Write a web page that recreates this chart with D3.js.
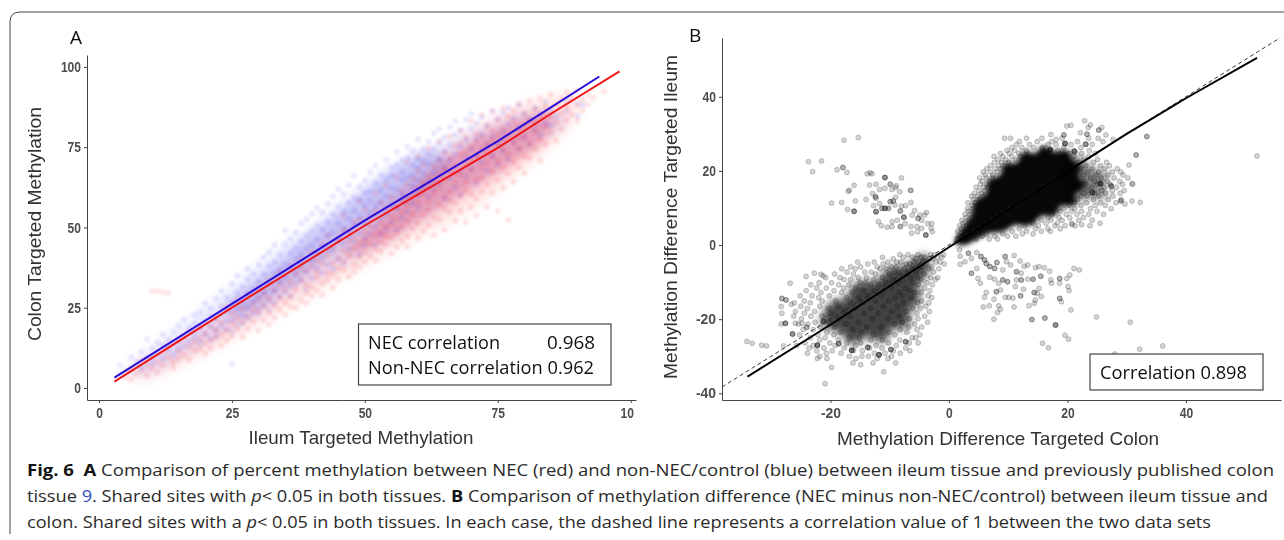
<!DOCTYPE html>
<html><head><meta charset="utf-8">
<style>html,body{margin:0;padding:0;background:#fff}svg{display:block}</style>
<script src="https://cdn.jsdelivr.net/npm/d3@7/dist/d3.min.js"></script></head>
<body><svg id="c" width="1284" height="540"></svg>
<script>
// ---------- Panel A values ----------
const aXTickValues=[0,25,50,75,100];
const aXTickLabels=["0","25","50","75","10"];
const aYTickValues=[0,25,50,75,100];
const aBlueLine=[[2.9,3.2],[25,26.2],[50,52.2],[75,76.9],[85,87.4],[94.1,97]];
const aRedLine=[[2.9,2],[25,25],[50,50.6],[75,74.8],[85,85.4],[97.9,98.6]];
const aCloudBlue=[[6,6],[14,17],[24,30],[33,42],[43,54],[53,66],[62,74],[72,81],[82,86],[88,84],[78,72],[66,58],[54,46],[42,35],[30,24],[18,12],[8,4]];
const aCloudRed=[[6,4],[16,15],[28,28],[40,42],[52,56],[62,70],[72,82],[82,89],[90,90],[88,81],[78,66],[68,54],[56,44],[44,33],[32,22],[20,11],[8,3]];
const aCoreRed=[[50,48],[58,60],[64,69],[72,78],[80,84],[85,85],[84,78],[78,70],[70,62],[62,54],[54,46],[46,41]];
const aCoreBlue=[[24,25],[32,37],[40,48],[48,59],[55,68],[62,74],[66,70],[60,60],[52,52],[44,43],[36,33],[26,22]];
const aBlueColumns=[[4,[4.5,7]],[6,[5.2,9.6]],[7,[8.1]],[8,[6.4,11.3]],[9,[15.2,9.5]],[10,[7.8,12.4]],[11,[10.6,14.1]],[12,[9.2,16.8,13.3]],[13,[11.7,15.2]],[14,[10.3,17.5,13.6]],[15,[14.8,19.4,12.2]],[16,[16.3,13.1,21.2]],[17,[18.6,14.4]],[18,[15.6,22.7,20.1,17.3]],[19,[14.2,23.6,18.9]],[20,[16.7,20.5,26.4]],[21,[15.1,24.8,19.2,22.3]],[22,[27.8,17.9,21.6,16.2]],[23,[25.3,19.4,30.2,22.8]],[24,[18.2,28.1,23.7,20.9]],[25,[7.5,21.3,32.4,26.6,17.6]],[26,[24.9,19.5,29.7,35.1]],[27,[22.4,31.5,26.8,20.2]],[28,[33.9,25.2,29.4,21.7,37.1]],[29,[23.1,35.6,30.8,26.9]],[30,[38.4,24.6,33.2,28.3,22.9]],[31,[29.8,40.7,25.7,35.4]],[32,[27.2,37.9,32.6,42.3,24.4]],[33,[44.6,30.1,35.7,26.5,39.2]],[34,[28.4,41.6,33.3,36.8]],[35,[49.1,29.9,38.2,44.7,34.6]],[36,[31.8,46.3,37.4,42.1,28.6]],[37,[35.2,48.4,40.3,32.7,43.6]],[38,[51.4,33.6,38.9,45.8,41.7]],[39,[30.7,47.5,36.1,43.4,52.6]],[40,[39.7,54.3,34.2,48.9,44.5]],[41,[37.3,50.6,42.6,56.1,46.2]],[42,[35.8,44.1,54.7,40.5,49.3]],[43,[57.4,38.4,47.6,51.8,43.2]],[44,[42.7,59.6,36.9,54.2,48.4]],[45,[61.8,40.2,45.9,56.6,51.3]],[46,[49.6,38.7,60.4,44.8,54.9]],[47,[43.3,63.2,52.7,57.8,47.1]],[48,[66.1,45.6,59.3,50.8,55.2]],[49,[41.6,62.7,53.4,48.2,58.6]],[50,[64.6,46.7,56.9,51.5,60.8,44.3]],[51,[48.1,67.3,54.6,61.2,58.4]],[52,[69.2,50.3,63.8,44.6,56.7]],[53,[57.9,66.4,47.8,61.6,52.7]],[54,[71.1,54.2,64.9,49.7,59.8]],[55,[62.4,68.7,51.9,57.1,66.2]],[56,[73.6,49.3,61.7,55.8,69.4]],[57,[64.8,70.9,53.1,60.2,67.3]],[58,[75.2,58.7,65.6,71.7,54.8]],[59,[69.3,62.9,73.8,57.4,66.4]],[60,[77.4,60.3,71.2,64.7,56.2,68.6]],[61,[74.3,66.8,62.4,70.6]],[62,[76.8,59.7,69.8,64.2,72.9]],[63,[79.4,67.2,61.8,74.6]],[64,[71.3,76.2,63.6,80.7]],[65,[58.9,68.4,78.1,73.7]],[66,[81.2,65.3,75.7,70.8]],[67,[62.4,78.9,72.6,83.1]],[68,[67.7,75.1,80.3,60.2]],[69,[83.6,71.9,77.2,65.8]],[70,[74.4,80.9,68.3,85.3]],[71,[63.7,77.6,72.2,82.4]],[72,[84.3,70.4,79.1]],[73,[75.8,67.6,81.7]],[74,[86.2,72.3,78.4]],[75,[69.6,83.9,76.1]],[76,[79.6,73.8,85.7]],[77,[82.2,71.2,87.1]],[78,[76.7,84.1]],[79,[88.4,74.3,81.3]],[80,[78.2,85.2]],[81,[83.7,75.8]],[82,[87.3,80.4]],[83,[78.6,85.4]],[84,[89.2,82.3]],[85,[81.7,86.4]],[86,[84.6]],[88,[86.1,89.3]],[90,[84.8,88.6]],[91,[88.1]]];
const aRedColumns=[[5,[3.2,5.4]],[6,[2.8,6.1]],[7,[4.4]],[8,[5.6,8.7]],[9,[3.9,7.4]],[10,[6.2,9.6,30.2]],[11,[8.3,4.8,30.1]],[12,[7.1,11.2,29.9]],[13,[9.4,12.8,29.5]],[14,[8.2,6.4]],[15,[11.4,14.6,9.1]],[16,[10.3,15.7]],[17,[12.9,8.8,17.4]],[18,[14.3,11.6]],[19,[18.6,12.2,15.4]],[20,[10.7,16.9,13.8]],[21,[19.3,14.9,12.4]],[22,[15.7,21.4,18.1]],[23,[13.2,20.4,16.6]],[24,[25.2,17.8,14.7]],[25,[19.9,16.1,23.3]],[26,[27.6,18.3,21.8]],[27,[15.9,24.7,20.6]],[28,[22.3,29.1,18.4]],[29,[26.2,20.7,24.1]],[30,[17.8,31.2,23.9,27.6]],[31,[25.4,21.1,29.3]],[32,[33.8,23.4,27.9,19.7]],[33,[30.6,25.8,21.9]],[34,[36.2,28.1,24.3,32.4]],[35,[22.8,30.7,26.6]],[36,[38.1,33.2,28.4,25.3]],[37,[30.9,24.9,35.7]],[38,[40.3,27.2,33.6,37.4]],[39,[29.6,36.4,26.4,32.1]],[40,[42.2,31.4,37.8,28.7]],[41,[34.3,30.2,39.6,36.1]],[42,[44.7,32.6,28.9,38.8]],[43,[35.9,47.3,41.4,33.7]],[44,[31.2,38.7,44.1,35.4]],[45,[46.6,40.4,33.8,37.2]],[46,[53.7,36.8,42.9,49.2,39.4]],[47,[34.7,45.6,48.8,41.2]],[48,[51.6,38.3,43.7,36.2,47.2]],[49,[58.3,40.9,45.1,52.4,37.6]],[50,[48.7,42.3,55.6,39.3,46.1]],[51,[53.2,44.8,41.1,50.4]],[52,[60.7,47.9,43.2,55.1,39.8]],[53,[45.4,57.8,51.3,42.6,48.6]],[54,[63.2,50.2,44.7,55.9,47.3]],[55,[41.8,53.6,59.4,46.7,50.9]],[56,[65.7,48.3,56.2,43.9,52.6]],[57,[61.4,45.8,54.9,50.1,58.3]],[58,[70.2,47.2,56.8,63.3,52.1,44.1]],[59,[59.4,49.6,65.2,54.3]],[60,[72.1,46.8,57.7,61.9,51.4,67.6]],[61,[53.8,64.2,48.9,60.3,69.7]],[62,[74.6,50.7,58.2,66.1,55.4,62.4]],[63,[47.6,68.9,60.8,53.2,64.7]],[64,[76.8,52.4,62.3,57.1,70.8,66.4]],[65,[49.2,73.3,59.6,64.9,55.8,68.2]],[66,[78.4,54.7,67.3,61.2,71.6,58.2]],[67,[52.1,75.4,63.9,69.2,57.6,66.6]],[68,[80.1,59.8,72.7,55.2,66.3,76.2]],[69,[51.6,69.8,61.4,78.1,64.3,73.6]],[70,[83.2,56.3,75.1,67.8,60.4,71.2]],[71,[53.7,79.2,64.8,72.4,58.9,76.7]],[72,[85.1,61.2,74.6,68.9,78.3,65.3]],[73,[56.4,81.6,70.2,75.8,63.4,73.4]],[74,[86.3,60.8,77.3,67.4,72.1,80.2]],[75,[55.2,83.4,70.8,75.6,64.7,78.9]],[76,[87.2,68.6,80.8,74.2,62.3,77.4]],[77,[52.3,84.6,72.6,78.7,66.8]],[78,[82.9,70.3,86.2,76.1,64.2]],[79,[88.1,74.4,80.6,68.7,77.8]],[80,[85.6,72.2,81.9,66.9,78.3]],[81,[89.2,76.3,83.4,71.6]],[82,[86.8,79.7,74.4,82.6]],[83,[90.1,77.2,84.3,70.8]],[84,[87.7,81.4,75.9,85.2]],[85,[91.3,79.6,84.7]],[86,[88.3,82.9,77.1]],[87,[85.6,90.4,80.7]],[88,[92.1,83.4,87.6]],[89,[85.2,90.2]],[90,[87.9,92.6,83.3]],[91,[89.6,86.4]],[92,[91.2,88.2]],[93,[90.3]],[95,[92.4]]];
// ---------- Panel B values ----------
const bXTickValues=[-20,0,20,40];
const bYTickValues=[-40,-20,0,20,40];
const bFitLine=[[-34,-35.5],[-20,-21.5],[0,-0.6],[20,19.8],[30,30],[40,39.6],[52,50.5]];
const bRefLine=[[-38.3,-38.3],[55.9,55.9]];
const bCoreUpper=[[1.4,1],[2.8,4.6],[4.2,8],[4.7,11.4],[6.6,13.6],[7,17],[9,18.6],[9.6,21.4],[11.6,21.6],[12.8,24.6],[14.6,24],[16,26],[18,24.4],[19.6,25],[20.6,22.4],[21.8,21],[21.4,18.2],[22.6,16],[20.8,14],[21,11.6],[18.6,11],[17.8,8.6],[15.4,8.4],[13.8,6],[11,6],[9,4.2],[6.6,3.8],[4.4,2],[2.4,0.6]];
const bLobeUpper=[[19,24],[22,24],[24,21],[27,19],[26,15.5],[27,13],[23,12.5],[20,11]];
const bCoreLower=[[-21,-21],[-19.6,-16],[-17,-15],[-15.6,-11],[-12,-10.4],[-10,-7],[-7.4,-6.4],[-4,-3.4],[-4.2,-8],[-5.6,-10],[-5.4,-15],[-7,-17],[-7.2,-21.4],[-10,-22],[-11,-25.4],[-14,-24],[-16.4,-26],[-18,-23]];
const bPointsUpperLeft=[[-17.7,28.3],[-15.3,29],[-23.7,22.5],[-21.5,22.7],[-23,19.8],[-17.9,20.9,2],[-18.9,20.3],[-17.2,19.6],[-13.8,19.2],[-13.3,19.5],[-13,19.2],[-10.8,18.2,3],[-9.9,16.4,2],[-8,18.1],[-16,16.1],[-13.4,16.2],[-12.3,16.4],[-16.8,14.8],[-17,14.5],[-11.7,15],[-10.8,15.3],[-9.6,15],[-9,15.5],[-8.9,16],[-6.5,14.8],[-6.4,14.7],[-8.3,14.4],[-14,12.3],[-15.8,11.9],[-18.1,11.5],[-19.8,11.3],[-17.1,9.6],[-16,9.1,3],[-12.9,13.9],[-12.4,13,2],[-12.3,12.6],[-12.7,10.6],[-12.3,9,3],[-11.7,11.2],[-11.3,9.9,2],[-10.8,9.9,3],[-10.2,9.9,2],[-9.9,11.7,2],[-9.4,11.9,2],[-9,12.9],[-9.1,10.8],[-8,10.5],[-7.3,10.6],[-6.4,11.5],[-8.2,9.2,2],[-7.6,7.5,3],[-5.8,9.3],[-6.2,8.1],[-5.2,7.2,2],[-4.6,6.7],[-3.8,8.8],[-4.1,8.1],[-4.9,8.1],[-11.9,6.3],[-11.4,5.2],[-10.4,4.8],[-9.6,6.3],[-9.6,5],[-8.7,6.7],[-8.2,5,2],[-7.4,5.8],[-6.4,5],[-5.4,5],[-4.6,4.5],[-6.3,3.2],[-5.3,3.6],[-3.9,2.7,3],[-2.8,3.6],[-2.9,5.8],[-3.6,5.8],[-3,4.5]];
const bPointsLowerRight=[[1.8,-1.3],[3.3,-2.2,2],[1.9,-3],[1.9,-5.2],[2.7,-4.5],[3.8,-3.6],[4.7,-2],[5.4,-3.1,2],[6,-4,2],[6.3,-5,2],[6.9,-5.8,2],[7.7,-6.3,2],[8.1,-4.7,2],[9.5,-3.1,2],[11,-2.8],[9.7,-4.5],[9.1,-6.7],[3.8,-7.6,2],[4.7,-6.3],[4.9,-9],[5.3,-10.3],[6.9,-8.7],[7.7,-9.2],[6.3,-12.8],[6,-14.1],[7.6,-14.6],[8,-12.6,2],[8.7,-12.1],[8.4,-10.3],[9.1,-9.4,2],[9.9,-9.9,2],[9.5,-14.1],[10.1,-14.1],[10.8,-14.3],[12.1,-13.7,2],[12.6,-11.9],[11.2,-11.2],[10.4,-5.4],[12,-4.3],[12.7,-5.7],[13.3,-5.4],[11.4,-7.2,2],[12.2,-7.6],[11.4,-9.4],[12.2,-9.4,2],[13.3,-9.2],[14.2,-9.2,2],[15.5,-8.4,2],[14.6,-6.1],[15.2,-5.8],[16.1,-6.1],[17,-7.1],[17.2,-9.4],[17.3,-10.3],[18.7,-9,2],[18.7,-10.3],[20.4,-8.1],[19.9,-9],[21.1,-6.3],[22,-6.7],[20.1,-11.2],[20.3,-12.3],[15.2,-11.7],[14.4,-12.8,2],[14.9,-13],[15.6,-13.9],[14.6,-14.8],[14.4,-15.7],[13.5,-16.4],[18.7,-14.4,2],[19,-15.3],[20.6,-17.5],[8.4,-16.4],[8.7,-17.3],[8.2,-18.2],[7.6,-20],[6.8,-16.4],[5.8,-16.7],[11,-16.7],[14,-20.1,2],[16.2,-19.7,2],[18,-21.6,3],[19.6,-24.3],[20.2,-25.4],[15.8,-26.5],[16.8,-27.7],[24.9,-19.4],[30.6,-20.8],[28,-29.4],[32.2,-28.1],[36.1,-27.2]];
const bPointsOutlying=[[-34.1,-26],[-33.2,-26.5],[-31.6,-27],[-30.8,-27.2],[-27.9,-27.2],[-26.8,-10.3],[-28.2,-14.4,2],[-27.5,-14.8,2],[-28.3,-16.6],[-28.2,-18.4],[-28.3,-21.3],[-27.6,-21.1,3],[-25.9,-21.1],[-24.8,-21.1],[-26.4,-24,3],[-26.6,-16],[-24.1,-8.5],[-22.7,-7.6],[-21.6,-7.9],[-21.2,-8.3],[-19.8,-33],[-20.9,-37.4],[-14.9,-32.3],[-11,-34.2],
[22.9,33.5],[20.6,32.3],[19.9,32.1],[23.9,32.4],[23.5,31.7],[25.8,31.7],[25.3,31,2],[22.2,30.3],[23.3,29.9,2],[26.5,29.7],[19.4,29.7,2],[17.2,29.8],[18.1,28.5],[9.4,28.8],[10.4,28.8],[33.4,29.3,2],[27.7,28.5],[31.6,24.3,2],[30.4,21.6],[30.9,16.6],[32.3,11.5],[30.9,11.9],[29.7,11.1],[29,11.9,2],[25.5,5.9],[22.4,5.5],[20.8,5.5],[52,24],
[-22.2,-27,4],[-16.4,-28.4,4],[-11.8,-29.6,4],[-18.6,-26.6,3],[-24,-22.2,2],[-7.3,-26.1,3],[-21.2,-20.6,3],[-9.8,-28.2,3],[-13.7,-27.6,3],[19.6,27.4,4],[17.1,25.7,4],[21.2,25.2,3],[23.1,27.2,3],[25.6,16.6,4],[24.2,14.1,3],[27.4,15.9,3]];
const bLowerRows=[[-2.6,[-8.3,-6.9,-5.2,-3.1,-2.4,-0.9]],[-3.3,[-11.2,-7.7,-6.1,-4.7,-4.1,-1.9,-1.2]],[-3.7,[-9.4,-5.6,-3.3,-2.7]],[-4.6,[-15.4,-12.6,-10.3,-8.8,-8.1,-5.9,-4.4,-2.2,-1.5]],[-5.1,[-13.7,-11.1,-7.2,-6.6,-3.8,-0.8]],[-5.9,[-16.6,-14.9,-12.1,-9.7,-8.9,-5.1,-4.6,-2.9]],[-6.4,[-18.1,-15.8,-11.6,-10.6,-7.5,-6.2,-3.4,-1.7]],[-7.3,[-17.2,-14.2,-13.1,-9.2,-8.4,-5.5,-2.6]],[-7.8,[-19.3,-16.1,-12.4,-10.1,-7,-4.2]],[-8.8,[-20.8,-18.4,-15.3,-13.9,-11.2,-6.4,-5.3,-3.1,-1.9]],[-9.3,[-17.7,-16.6,-12.7,-9.4,-7.8,-4.7,-2.3]],[-10.2,[-21.9,-19.8,-15,-14.1,-10.7,-8.6,-6.1,-3.7]],[-10.7,[-23.3,-18.6,-16.9,-13.2,-11.9,-5.2,-2.8]],[-11.6,[-22.3,-20.7,-17.8,-15.7,-9.7,-7.3,-4.1]],[-12.3,[-24.1,-19.4,-14.4,-12.6,-10.9,-6.6,-3.2]],[-12.8,[-21.6,-18.1,-16.3,-8.4,-5.8,-4.7]],[-13.7,[-25.1,-23.1,-20.2,-13.7,-11.4,-7.9,-3.5]],[-14.2,[-22,-17.3,-15.2,-9.1,-6.3,-2.9]],[-15.1,[-24.4,-19.1,-21.4,-12.4,-10.2,-4.6]],[-15.6,[-26.1,-23.4,-16.6,-14.6,-7.6,-5.3,-3.4]],[-16.5,[-25,-21.8,-18.7,-11.1,-8.7,-3.9]],[-17.1,[-23.9,-20.3,-15.9,-13.2,-6.1,-4.8]],[-17.9,[-25.9,-22.7,-17.6,-9.7,-7.2,-3.3]],[-18.4,[-24.4,-19.9,-14.3,-11.9,-5.4]],[-19.2,[-26.2,-21.4,-23.3,-16.7,-8.4,-4.1]],[-19.9,[-24.9,-18.6,-12.9,-10.3,-6.7,-5.2]],[-20.8,[-22.6,-20.2,-15.3,-7.9,-3.6]],[-21.3,[-25.4,-23.8,-17.4,-9.2,-5.8]],[-22.1,[-21.7,-19.3,-13.9,-11.4,-6.8,-4.6]],[-22.8,[-24.6,-22.9,-16.2,-8.2,-5.4]],[-23.5,[-20.6,-18.3,-14.7,-10.1,-7.1]],[-24.2,[-25.2,-22.1,-19.4,-12.7,-9.1,-4.9]],[-25,[-23.4,-20.9,-16.8,-15.1,-6.2,-5.6]],[-25.6,[-21.8,-18.7,-13.2,-11.2,-8.3]],[-26.4,[-24.3,-20.1,-17.2,-14.9,-10.2,-6.7,-5.2]],[-27.1,[-25.7,-22.9,-19.2,-15.8,-12.3,-8.9]],[-27.8,[-23.6,-21.1,-17.7,-13.4,-11.3,-7.3]],[-28.5,[-22.3,-19.7,-16.1,-14.6,-9.4,-6.6]],[-29.2,[-23.9,-20.7,-18.2,-12.6,-10.8,-8.2]],[-30,[-21.8,-16.8,-14.7,-13.6,-9.7]],[-30.6,[-22.2,-20.6,-15.7,-12.1,-10.3]],[-31.8,[-16.2,-12.8,-9]]];
const bUpperRows=[[1.6,[1.4,3.1,4.6,6.8,8.2]],[2.4,[1.7,2.3,5.6,7.7,9.9,11.3]],[3,[3.8,9.1,12.4,14.2,6.3]],[3.7,[1.5,2.6,10.7,13.1,15.6,17.1]],[4.4,[2.1,11.9,14.6,16.7,18.8]],[5.2,[1.8,2.9,12.8,15.1,17.9,19.6,21.3,23.8]],[5.9,[2.4,3.5,14.2,16.4,18.3,20.7]],[6.7,[2.2,3.3,15.6,17.2,19.1,21.9,24.2]],[7.4,[2.9,3.9,16.7,18.6,20.4,22.7]],[8.3,[2.7,3.6,17.4,19.8,21.6,23.6,26.1]],[9.1,[3.3,4.3,18.8,20.7,22.4,25]],[9.8,[3.1,4.1,19.4,21.2,23.9,27.4]],[10.7,[3.9,4.7,20.3,22.3,24.7,26.4]],[11.4,[3.2,4.4,5.3,21.2,23.2,25.6,28.2]],[12.3,[4.1,5.1,21.7,24.4,26.9,29.1]],[13.2,[3.8,4.8,5.8,22.3,23.3,25.3,27.7]],[14,[4.3,5.5,22.7,24.6,26.4,28.9]],[14.7,[5.1,6.1,23.4,25.8,27.6,29.6]],[15.6,[4.6,5.8,6.6,24.1,26.2,28.3]],[16.4,[5.3,6.4,23.1,25.1,27.2,29.3,31]],[17.2,[5.6,6.9,22.8,24.6,26.7,28.8]],[18.1,[5.2,6.3,7.3,23.9,25.7,27.9,30.2]],[18.9,[6.1,7.4,22.7,24.8,26.8,29.4]],[19.7,[5.8,7,8.1,23.4,25.3,27.6,29]],[20.6,[6.4,7.8,8.8,22.3,24.2,26.3,28.4]],[21.4,[7,8.4,9.3,23.1,25.6,27.1]],[22.3,[7.7,8.9,10.1,21.9,24.4,26.6]],[23.1,[8.3,9.6,11.2,22.8,25.1]],[23.9,[7.6,9.1,10.6,12.1,21.1,23.6]],[24.7,[8.7,10.2,11.8,20.3,22.4,24.7]],[25.5,[9.8,11.1,13.1,18.4,21.1,23.7]],[26.3,[10.6,12.3,14.3,15.8,19.4,22.3]],[27.1,[11.4,13.6,16.7,18.1,20.6,24.2]],[27.9,[11.9,14.9,17.3,21.7,26]],[28.8,[13.1,15.7,19.1,23.6,25.2]]];
// ---------- Text ----------
const captionRuns=[
 [["Fig. 6","b"],["  ",""],["A","b"],[" Comparison of percent methylation between NEC (red) and non-NEC/control (blue) between ileum tissue and previously published colon",""]],
 [["tissue ",""],["9","l"],[". Shared sites with ",""],["p","i"],["< 0.05 in both tissues. ",""],["B","b"],[" Comparison of methylation difference (NEC minus non-NEC/control) between ileum tissue and",""]],
 [["colon. Shared sites with a ",""],["p","i"],["< 0.05 in both tissues. In each case, the dashed line represents a correlation value of 1 between the two data sets",""]]];
const captionWidths=[1247,1241,1184];

const svg=d3.select("#c");
const defs=svg.append("defs");
const blur=(id,s)=>defs.append("filter").attr("id",id).attr("x","-30%").attr("y","-30%").attr("width","160%").attr("height","160%").append("feGaussianBlur").attr("stdDeviation",s);
blur("cloud",6);blur("cloudS",4);blur("soft",0.5);blur("edge",2.4);blur("dots",1.3);

svg.append("path").attr("d","M1284,12H20Q10,12 10,22V534").attr("fill","none").attr("stroke","#444").attr("stroke-width",1);

const chart=svg.append("g").attr("filter","url(#soft)");
const closed=(x,y)=>d3.line().x(d=>x(d[0])).y(d=>y(d[1])).curve(d3.curveCatmullRomClosed);
const open=(x,y)=>d3.line().x(d=>x(d[0])).y(d=>y(d[1]));
const expand=a=>a.flatMap(p=>d3.range(p[2]||1).map(()=>p));
const fromColumns=c=>c.flatMap(([x,ys])=>ys.map(y=>[x,y]));
const fromRows=r=>r.flatMap(([y,xs])=>xs.map(x=>[x,y]));

function axes(g,x,y,xv,yv,xl){
 const bot=y.range()[0],left=x.range()[0];
 const ax=g.append("g").attr("transform",`translate(0,${bot})`).call(d3.axisBottom(x).tickValues(xv).tickSize(3).tickSizeOuter(0).tickPadding(5).tickFormat((d,i)=>xl?xl[i]:String(d)));
 const ay=g.append("g").attr("transform",`translate(${left},0)`).call(d3.axisLeft(y).tickValues(yv).tickSize(3).tickSizeOuter(0).tickPadding(3).tickFormat(d=>String(d)));
 for(const a of [ax,ay]){
  a.selectAll(".domain").attr("stroke","#444").attr("stroke-width",1);
  a.selectAll(".tick line").attr("stroke","#444");
  a.selectAll("text").attr("font-family","'Liberation Sans',sans-serif").attr("font-weight","bold").attr("font-size",14.5).attr("fill","#4d4d4d")
   .attr("textLength",function(){return this.textContent.length*6.7}).attr("lengthAdjust","spacingAndGlyphs");
 }
 return ax;
}
function label(g,txt,cx,cy,w,rot){
 g.append("text").text(txt).attr("text-anchor","middle").attr("font-family","'Liberation Sans',sans-serif").attr("font-size",18.5).attr("fill","#333")
  .attr("textLength",w).attr("lengthAdjust","spacingAndGlyphs")
  .attr("transform",`translate(${cx},${cy})`+(rot?" rotate(-90)":""));
}
function box(g,x,y,w,h){g.append("rect").attr("x",x).attr("y",y).attr("width",w).attr("height",h).attr("fill","#fff").attr("stroke","#444").attr("stroke-width",1.2);}
function boxText(g,t,x,y,w){g.append("text").text(t).attr("x",x).attr("y",y).attr("font-family","'Open Sans',Lato,sans-serif").attr("font-size",19).attr("fill","#111").attr("textLength",w).attr("lengthAdjust","spacingAndGlyphs");}

// ---------- Panel A ----------
const ax=d3.scaleLinear().domain([-2.256,101]).range([87,636]);
const ay=d3.scaleLinear().domain([-3.74,103.7]).range([400,55]);
const A=chart.append("g");
const cl=closed(ax,ay);
A.append("path").attr("d",cl(aCloudRed)).attr("fill","#ff5050").attr("opacity",.18).attr("filter","url(#cloud)");
A.append("path").attr("d",cl(aCloudBlue)).attr("fill","#6060ff").attr("opacity",.15).attr("filter","url(#cloud)");
A.append("path").attr("d",cl(aCoreBlue)).attr("fill","#4a3ad0").attr("opacity",.2).attr("filter","url(#cloudS)");
A.append("path").attr("d",cl(aCoreRed)).attr("fill","#d82050").attr("opacity",.27).attr("filter","url(#cloudS)");
A.append("g").attr("filter","url(#dots)").selectAll("circle").data(fromColumns(aRedColumns)).join("circle").attr("cx",d=>ax(d[0])).attr("cy",d=>ay(d[1])).attr("r",3).attr("fill","#ff2020").attr("opacity",.1);
A.append("g").attr("filter","url(#dots)").selectAll("circle").data(fromColumns(aBlueColumns)).join("circle").attr("cx",d=>ax(d[0])).attr("cy",d=>ay(d[1])).attr("r",3).attr("fill","#2020ff").attr("opacity",.085);
const al=open(ax,ay);
A.append("path").attr("d",al(aRedLine)).attr("fill","none").attr("stroke","#f01616").attr("stroke-width",2);
A.append("path").attr("d",al(aBlueLine)).attr("fill","none").attr("stroke","#2a10d8").attr("stroke-width",2);
axes(A,ax,ay,aXTickValues,aYTickValues,aXTickLabels).selectAll(".tick:last-of-type text").attr("dx",-4);
label(A,"Ileum Targeted Methylation",361,444,225,false);
label(A,"Colon Targeted Methylation",41,224,234,true);
A.append("text").text("A").attr("x",70).attr("y",44).attr("font-family","'Open Sans',sans-serif").attr("font-size",19).attr("fill","#111");
box(A,358.5,324,252.5,61);
boxText(A,"NEC correlation",368,349,132);
boxText(A,"0.968",547,349,48);
boxText(A,"Non-NEC correlation 0.962",368,374,226);

// ---------- Panel B ----------
const bx=d3.scaleLinear().domain([-38.3,56.05]).range([722,1281]);
const by=d3.scaleLinear().domain([-41.8,55.85]).range([400,38]);
const B=chart.append("g");
const cb=closed(bx,by);
B.append("path").attr("d",cb(bCoreLower)).attr("fill","#000").attr("stroke","#000").attr("stroke-width",6).attr("opacity",.74).attr("filter","url(#cloudS)");
B.append("path").attr("d",cb(bLobeUpper)).attr("fill","#000").attr("opacity",.5).attr("filter","url(#cloudS)");
B.append("path").attr("d",cb(bCoreUpper)).attr("fill","#000").attr("stroke","#000").attr("stroke-width",5).attr("opacity",.97).attr("filter","url(#edge)");
const allB=[...expand([...bPointsUpperLeft,...bPointsLowerRight,...bPointsOutlying]),...fromRows(bLowerRows),...fromRows(bUpperRows)];
B.append("g").selectAll("circle").data(allB).join("circle").attr("cx",d=>bx(d[0])).attr("cy",d=>by(d[1])).attr("r",2.5)
 .attr("fill","#000").attr("fill-opacity",.17).attr("stroke","#000").attr("stroke-opacity",.24).attr("stroke-width",.8);
const bl=open(bx,by);
B.append("path").attr("d",bl(bRefLine)).attr("fill","none").attr("stroke","#222").attr("stroke-width",.9).attr("stroke-dasharray","4 3");
B.append("path").attr("d",bl(bFitLine)).attr("fill","none").attr("stroke","#000").attr("stroke-width",2);
axes(B,bx,by,bXTickValues,bYTickValues,null);
label(B,"Methylation Difference Targeted Colon",998,445,322,false);
label(B,"Methylation Difference Targeted Ileum",677,217,324,true);
B.append("text").text("B").attr("x",689).attr("y",42).attr("font-family","'Open Sans',sans-serif").attr("font-size",19).attr("fill","#111");
box(B,1090,354,173,36);
boxText(B,"Correlation 0.898",1100,379,147);

// ---------- Caption ----------
captionRuns.forEach((runs,i)=>{
 const t=svg.append("text").attr("x",27).attr("y",476+i*26).attr("font-family","'Open Sans','Noto Sans',sans-serif").attr("font-size",16).attr("fill","#2a2a2a")
  .attr("textLength",captionWidths[i]).attr("lengthAdjust","spacingAndGlyphs").style("white-space","pre");
 runs.forEach(([s,k])=>{
  const sp=t.append("tspan").text(s);
  if(k==="b")sp.attr("font-weight","bold").attr("fill","#111");
  if(k==="i")sp.attr("font-style","italic");
  if(k==="l")sp.attr("fill","#3050c0");
 });
});
</script></body></html>
